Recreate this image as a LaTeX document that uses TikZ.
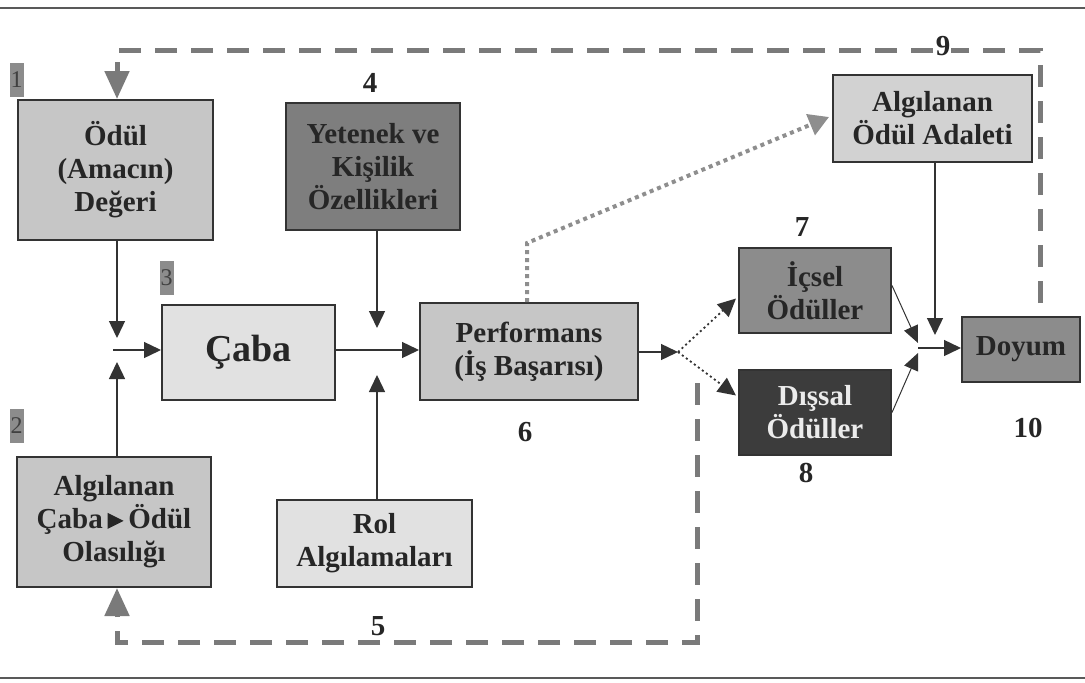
\documentclass[tikz,border=0pt]{standalone}
\usepackage{fontspec}
\setmainfont{Liberation Serif}
\usetikzlibrary{arrows.meta}
\definecolor{boxline}{HTML}{333333}
\definecolor{fillA}{HTML}{C6C6C6}
\definecolor{fillB}{HTML}{E1E1E1}
\definecolor{fillC}{HTML}{7E7E7E}
\definecolor{fillD}{HTML}{8C8C8C}
\definecolor{fillE}{HTML}{3C3C3C}
\definecolor{fillF}{HTML}{D2D2D2}
\definecolor{dashcol}{HTML}{7A7A7A}
\tikzset{
  x=1pt, y=-1pt,
  blk/.style={draw=boxline, line width=2pt, rectangle, align=center, inner sep=0pt,
    font=\fontsize{29}{33}\selectfont\bfseries, text=black!85},
  num/.style={font=\fontsize{29}{30}\selectfont\bfseries, text=black!85, inner sep=0pt},
  tag/.style={fill=fillD, text=black!75, font=\fontsize{24}{26}\selectfont, inner sep=0pt,
    minimum width=14pt, minimum height=34pt},
  solid arrow/.style={line width=1.4pt, draw=black!80, -{Triangle[length=17pt,width=16pt]}},
  thin arrow/.style={line width=1pt, draw=black!80, -{Triangle[length=17pt,width=15pt]}},
  loop line/.style={line width=5pt, draw=dashcol, dash pattern=on 22pt off 14pt,
    -{Triangle[length=28pt,width=24pt]}},
  gray dots/.style={line width=4pt, draw=dashcol!85, dash pattern=on 4pt off 4pt,
    -{Triangle[length=20pt,width=22pt]}},
  black dots/.style={line width=1.8pt, draw=black!80, dash pattern=on 2pt off 3pt,
    -{Triangle[length=18pt,width=17pt]}},
}
\begin{document}
\begin{tikzpicture}
\useasboundingbox (0,0) rectangle (1085,683);
% page rules
\draw[line width=2pt, black!65] (0,8) -- (1085,8);
\draw[line width=2pt, black!65] (0,678) -- (1085,678);

% boxes
\node[blk, fill=fillA, minimum width=195pt, minimum height=140pt] (odul) at (115.5,170) {Ödül\\(Amacın)\\Değeri};
\node[blk, fill=fillA, minimum width=194pt, minimum height=130pt] (olas) at (114,522)
  {Algılanan\\Çaba\,\tikz[baseline=-8pt]\fill[black!85] (0,-8pt) -- (16pt,0) -- (0,8pt) -- cycle;\,Ödül\\Olasılığı};
\node[blk, fill=fillB, minimum width=173pt, minimum height=95pt,
  font=\fontsize{38}{40}\selectfont\bfseries] (caba) at (248.5,352.5) {Çaba};
\node[blk, fill=fillC, minimum width=174pt, minimum height=127pt] (yet) at (373,166.5) {Yetenek ve\\Kişilik\\Özellikleri};
\node[blk, fill=fillA, minimum width=218pt, minimum height=97pt] (perf) at (529,351.5) {Performans\\(İş Başarısı)};
\node[blk, fill=fillB, minimum width=195pt, minimum height=87pt] (rol) at (374.5,543.5) {Rol\\Algılamaları};
\node[blk, fill=fillF, minimum width=199pt, minimum height=87pt] (adalet) at (932.5,118.5) {Algılanan\\Ödül Adaleti};
\node[blk, fill=fillD, minimum width=152pt, minimum height=85pt] (icsel) at (815,290.5) {İçsel\\Ödüller};
\node[blk, fill=fillE, text=white!92!black, minimum width=152pt, minimum height=85pt] (dissal) at (815,412.5) {Dışsal\\Ödüller};
\node[blk, fill=fillD, minimum width=118pt, minimum height=65pt] (doyum) at (1021,349.5) {Doyum};

% step tags and numbers
\node[tag] (t1) at (16.5,80) {1};
\node[tag] (t2) at (16.5,426) {2};
\node[tag] (t3) at (166.5,278) {3};
\node[num] (n4) at (370,83) {4};
\node[num] (n5) at (378,626) {5};
\node[num] (n6) at (525,432) {6};
\node[num] (n7) at (802,227) {7};
\node[num] (n8) at (806,473) {8};
\node[num] (n10) at (1028,428) {10};

% junction points
\coordinate (j1) at (117,350);
\coordinate (j2) at (377,350);
\coordinate (j3) at (678,352);
\coordinate (j4) at (918,348);
\coordinate (a5) at (935,335);
\coordinate (c9) at (117,50);
\coordinate (c5) at (117,642);

% inputs to effort
\draw[solid arrow] (odul.south -| j1) -- ([yshift=12pt]j1);
\draw[solid arrow] (olas.north -| j1) -- ([yshift=-12pt]j1);
\draw[solid arrow] ([xshift=-4pt]j1) -- (caba.west |- j1);

% effort to performance
\draw[solid arrow] (caba.east |- j2) -- (perf.west |- j2);
\draw[solid arrow] (yet.south -| j2) -- ([yshift=22pt]j2);
\draw[solid arrow] (rol.north -| j2) -- ([yshift=-25pt]j2);

% performance to rewards
\draw[solid arrow] (perf.east |- j3) -- (j3);
\draw[black dots] (j3) -- ([xshift=-2pt,yshift=-8pt]icsel.west);
\draw[black dots] (j3) -- ([xshift=-2pt,yshift=17pt]dissal.west);

% rewards to satisfaction
\draw[thin arrow] ([yshift=5pt]icsel.east) -- ([yshift=5pt]j4);
\draw[thin arrow] (dissal.east) -- ([yshift=-5pt]j4);
\draw[solid arrow] (adalet.south -| a5) -- (a5);
\draw[solid arrow] (j4) -- (doyum.west |- j4);

% performance to perceived equity
\coordinate (p1) at (527,243);
\draw[gray dots] (perf.north -| p1) -- (p1) -- (829,117);

% feedback loops
\draw[loop line] (1040,303) -- (1040,50) -- (c9) -- (odul.north -| c9);
\node[num, fill=white, inner xsep=1pt] (n9) at (943,46) {9};
\draw[loop line] (697,383) -- (697,642) -- (c5) -- (olas.south -| c5);
\end{tikzpicture}
\end{document}
